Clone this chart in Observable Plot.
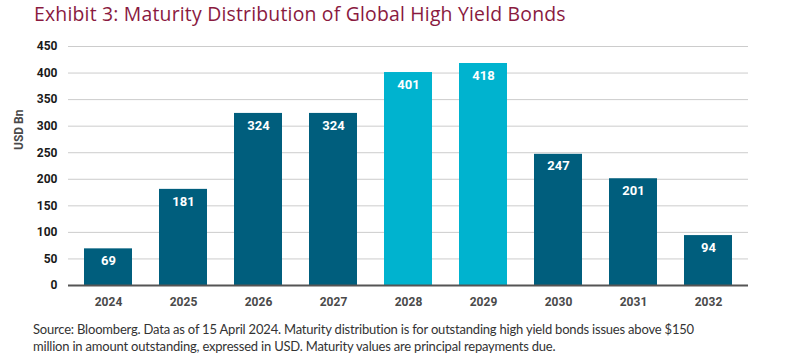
<!DOCTYPE html>
<html>
<head>
<meta charset="utf-8">
<script src="https://cdn.jsdelivr.net/npm/d3@7"></script>
<script src="https://cdn.jsdelivr.net/npm/@observablehq/plot@0.6"></script>
<style>
  html, body { margin: 0; padding: 0; background: #fff; }
  #wrap { position: relative; width: 800px; height: 364px; overflow: hidden; }
  #title { position: absolute; left: 34px; top: 0px; font-family: "Open Sans", sans-serif; font-size: 19.4px; line-height: normal; letter-spacing: 0.2px; color: #8a1a3f; white-space: nowrap; }
  #chart { position: absolute; left: 0; top: 30px; }
  #caption { position: absolute; left: 33px; top: 321px; font-family: Lato, sans-serif; font-size: 13px; line-height: 17px; color: #333; white-space: nowrap; letter-spacing: -0.2px; }
</style>
</head>
<body>
<div id="wrap">
  <div id="title">Exhibit 3: Maturity Distribution of Global High Yield Bonds</div>
  <div id="chart"></div>
  <div id="caption">Source: Bloomberg. Data as of 15 April 2024. Maturity distribution is for outstanding high yield bonds issues above $150<br>million in amount outstanding, expressed in USD. Maturity values are principal repayments due.</div>
</div>
<script>
const years = ["2024", "2025", "2026", "2027", "2028", "2029", "2030", "2031", "2032"];
const values = [69, 181, 324, 324, 401, 418, 247, 201, 94];
const highlighted = ["2028", "2029"];
const yTicks = [0, 50, 100, 150, 200, 250, 300, 350, 400, 450];
const yLabel = "USD Bn";

const data = years.map((y, i) => ({year: y, value: values[i], hi: highlighted.includes(y)}));

const chart = Plot.plot({
  width: 800,
  height: 290,
  marginTop: 16,
  marginBottom: 35,
  marginLeft: 68,
  marginRight: 52,
  style: {fontFamily: "Roboto, sans-serif", fontSize: "12px", fontWeight: 700},
  x: {domain: years, paddingInner: 0.36, paddingOuter: 0.16, label: null},
  y: {domain: [0, 450], label: null},
  marks: [
    Plot.ruleY(yTicks.filter(d => d > 0), {stroke: "#cccccc", strokeWidth: 1}),
    Plot.barY(data, {x: "year", y: "value", fill: d => d.hi ? "#00b3cf" : "#005e7d"}),
    Plot.ruleY([0], {stroke: "#555555", strokeWidth: 2}),
    Plot.text(data, {x: "year", y: "value", text: d => String(d.value), dy: 12, fill: "white", fontSize: 13, fontWeight: 700}),
    Plot.axisY({ticks: yTicks, tickSize: 0, tickPadding: 11, color: "#1a1a1a", label: null}),
    Plot.axisX({tickSize: 0, tickPadding: 12, color: "#4a4a4a", label: null}),
    Plot.text([yLabel], {frameAnchor: "left", dx: -49, dy: -16, rotate: -90, fill: "#4a4a4a", fontSize: 12, fontWeight: 700})
  ]
});
document.getElementById("chart").appendChild(chart);
</script>
</body>
</html>
